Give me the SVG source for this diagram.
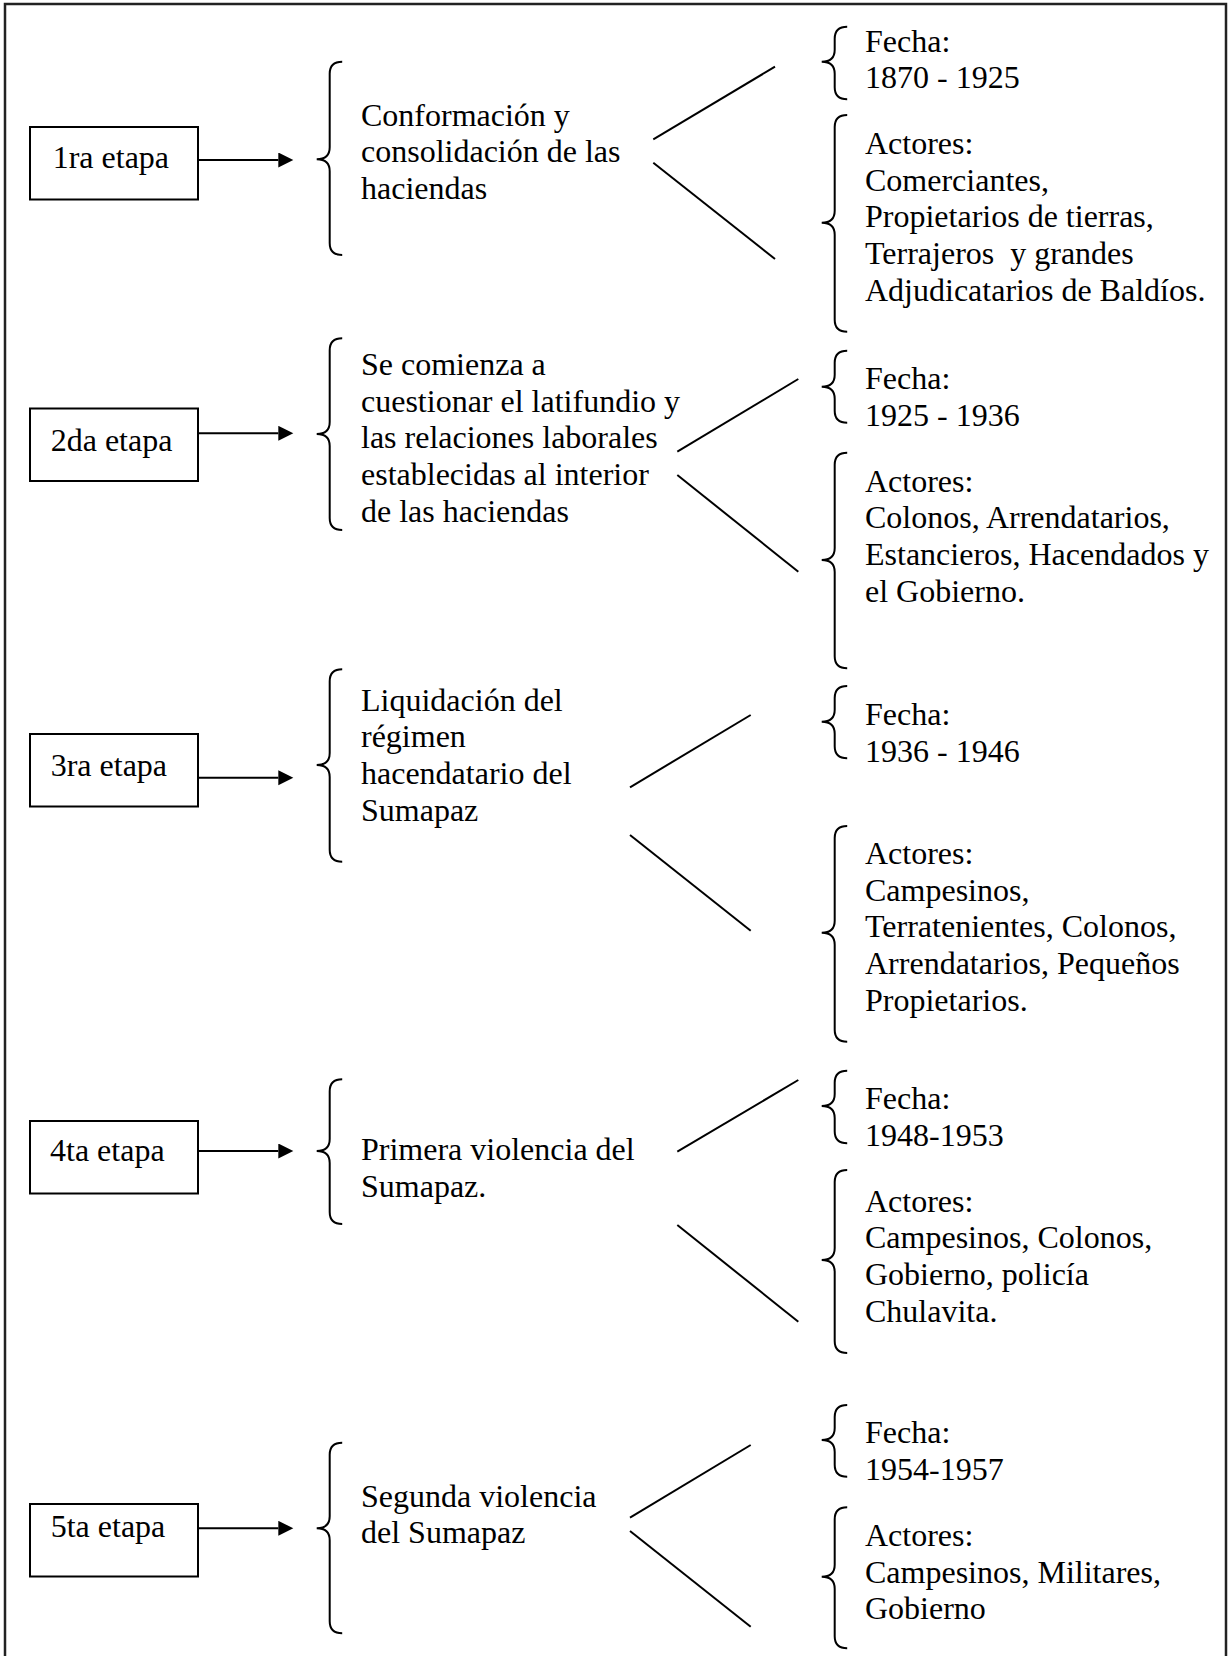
<svg xmlns="http://www.w3.org/2000/svg" width="1228" height="1656" viewBox="0 0 1228 1656">
<defs>
<style>
text{font-family:"Liberation Serif","Times New Roman",serif;font-size:32px;fill:#000;white-space:pre}
.box{fill:#fff;stroke:#000;stroke-width:2}
.arr{stroke:#000;stroke-width:2;fill:none}
.brace{fill:none;stroke:#000;stroke-width:2}
.diag{stroke:#000;stroke-width:2;fill:none}
.frame{stroke:#222;stroke-width:2.5;fill:none}
</style>
<marker id="ah" markerUnits="userSpaceOnUse" markerWidth="16" markerHeight="16" refX="0" refY="7.5" orient="auto">
<path d="M0,0 L15,7.5 L0,15 z" fill="#000"/>
</marker>
</defs>
<rect width="1228" height="1656" fill="#fff"/>
<path class="frame" d="M5,1656 L5,4 L1226,4 L1226,1656"/>

<g id="connectors">
<line class="arr" x1="198" y1="160" x2="278.3" y2="160" marker-end="url(#ah)"/>
<line class="arr" x1="198" y1="433.3" x2="278.3" y2="433.3" marker-end="url(#ah)"/>
<line class="arr" x1="198" y1="777.7" x2="278.3" y2="777.7" marker-end="url(#ah)"/>
<line class="arr" x1="198" y1="1151" x2="278.3" y2="1151" marker-end="url(#ah)"/>
<line class="arr" x1="198" y1="1528.3" x2="278.3" y2="1528.3" marker-end="url(#ah)"/>

<line class="diag" x1="653.3" y1="139.3" x2="775" y2="66.7"/>
<line class="diag" x1="653.3" y1="162.7" x2="775" y2="259"/>
<line class="diag" x1="677.3" y1="451.7" x2="798.3" y2="379"/>
<line class="diag" x1="677.3" y1="475" x2="798.3" y2="571.7"/>
<line class="diag" x1="630" y1="787.3" x2="750.7" y2="715"/>
<line class="diag" x1="630" y1="835" x2="750.7" y2="930.7"/>
<line class="diag" x1="677.3" y1="1151.7" x2="798.3" y2="1080"/>
<line class="diag" x1="677.3" y1="1225" x2="798.3" y2="1321.7"/>
<line class="diag" x1="630" y1="1517.7" x2="750.7" y2="1445"/>
<line class="diag" x1="630" y1="1531" x2="750.7" y2="1626.7"/>
</g>

<g id="etapa1">
<rect class="box" x="30" y="127" width="168" height="72.5"/>
<text x="52.7" y="168.3">1ra etapa</text>
</g>
<g id="tema1">
<path class="brace" d="M342.2,61.7 Q329.7,61.7 329.7,73.7 L329.7,147.3 Q329.7,159.3 316.7,159.3 Q329.7,159.3 329.7,171.3 L329.7,243 Q329.7,255 342.2,255"/>
<text x="361" y="125.7">Conformación y</text>
<text x="361" y="162.4">consolidación de las</text>
<text x="361" y="199.1">haciendas</text>
</g>
<g id="fecha1">
<path class="brace" d="M847.2,26.7 Q834.7,26.7 834.7,38.7 L834.7,49.7 Q834.7,61.7 821.7,61.7 Q834.7,61.7 834.7,73.7 L834.7,87.3 Q834.7,99.3 847.2,99.3"/>
<text x="865" y="51.7">Fecha:</text>
<text x="865" y="88.3">1870 - 1925</text>
</g>
<g id="actores1">
<path class="brace" d="M847.2,115 Q834.7,115 834.7,127 L834.7,210.7 Q834.7,222.7 821.7,222.7 Q834.7,222.7 834.7,234.7 L834.7,319.7 Q834.7,331.7 847.2,331.7"/>
<text x="865" y="154">Actores:</text>
<text x="865" y="190.7">Comerciantes,</text>
<text x="865" y="227.4">Propietarios de tierras,</text>
<text x="865" y="264.1">Terrajeros  y grandes</text>
<text x="865" y="300.8">Adjudicatarios de Baldíos.</text>
</g>

<g id="etapa2">
<rect class="box" x="30" y="408.5" width="168" height="72.5"/>
<text x="50.7" y="450.7">2da etapa</text>
</g>
<g id="tema2">
<path class="brace" d="M342.2,338.3 Q329.7,338.3 329.7,350.3 L329.7,422 Q329.7,434 316.7,434 Q329.7,434 329.7,446 L329.7,518 Q329.7,530 342.2,530"/>
<text x="361" y="375">Se comienza a</text>
<text x="361" y="411.7">cuestionar el latifundio y</text>
<text x="361" y="448.4">las relaciones laborales</text>
<text x="361" y="485.1">establecidas al interior</text>
<text x="361" y="521.8">de las haciendas</text>
</g>
<g id="fecha2">
<path class="brace" d="M847.2,350.7 Q834.7,350.7 834.7,362.7 L834.7,374.7 Q834.7,386.7 821.7,386.7 Q834.7,386.7 834.7,398.7 L834.7,410.7 Q834.7,422.7 847.2,422.7"/>
<text x="865" y="389.3">Fecha:</text>
<text x="865" y="426">1925 - 1936</text>
</g>
<g id="actores2">
<path class="brace" d="M847.2,452.7 Q834.7,452.7 834.7,464.7 L834.7,548 Q834.7,560 821.7,560 Q834.7,560 834.7,572 L834.7,656.3 Q834.7,668.3 847.2,668.3"/>
<text x="865" y="491.7">Actores:</text>
<text x="865" y="528.4">Colonos, Arrendatarios,</text>
<text x="865" y="565.1">Estancieros, Hacendados y</text>
<text x="865" y="601.8">el Gobierno.</text>
</g>

<g id="etapa3">
<rect class="box" x="30" y="734" width="168" height="72.5"/>
<text x="50.7" y="775.5">3ra etapa</text>
</g>
<g id="tema3">
<path class="brace" d="M342.2,669.3 Q329.7,669.3 329.7,681.3 L329.7,753 Q329.7,765 316.7,765 Q329.7,765 329.7,777 L329.7,849.7 Q329.7,861.7 342.2,861.7"/>
<text x="361" y="710.7">Liquidación del</text>
<text x="361" y="747.4">régimen</text>
<text x="361" y="784.1">hacendatario del</text>
<text x="361" y="820.8">Sumapaz</text>
</g>
<g id="fecha3">
<path class="brace" d="M847.2,686 Q834.7,686 834.7,698 L834.7,709.7 Q834.7,721.7 821.7,721.7 Q834.7,721.7 834.7,733.7 L834.7,746.3 Q834.7,758.3 847.2,758.3"/>
<text x="865" y="725">Fecha:</text>
<text x="865" y="761.7">1936 - 1946</text>
</g>
<g id="actores3">
<path class="brace" d="M847.2,826 Q834.7,826 834.7,838 L834.7,920.7 Q834.7,932.7 821.7,932.7 Q834.7,932.7 834.7,944.7 L834.7,1029.7 Q834.7,1041.7 847.2,1041.7"/>
<text x="865" y="864">Actores:</text>
<text x="865" y="900.7">Campesinos,</text>
<text x="865" y="937.4">Terratenientes, Colonos,</text>
<text x="865" y="974.1">Arrendatarios, Pequeños</text>
<text x="865" y="1010.8">Propietarios.</text>
</g>

<g id="etapa4">
<rect class="box" x="30" y="1121" width="168" height="72.5"/>
<text x="50" y="1160.7">4ta etapa</text>
</g>
<g id="tema4">
<path class="brace" d="M342.2,1079.3 Q329.7,1079.3 329.7,1091.3 L329.7,1139 Q329.7,1151 316.7,1151 Q329.7,1151 329.7,1163 L329.7,1212 Q329.7,1224 342.2,1224"/>
<text x="361" y="1160">Primera violencia del</text>
<text x="361" y="1196.7">Sumapaz.</text>
</g>
<g id="fecha4">
<path class="brace" d="M847.2,1070.7 Q834.7,1070.7 834.7,1082.7 L834.7,1094 Q834.7,1106 821.7,1106 Q834.7,1106 834.7,1118 L834.7,1131.3 Q834.7,1143.3 847.2,1143.3"/>
<text x="865" y="1109.3">Fecha:</text>
<text x="865" y="1146">1948-1953</text>
</g>
<g id="actores4">
<path class="brace" d="M847.2,1170 Q834.7,1170 834.7,1182 L834.7,1248 Q834.7,1260 821.7,1260 Q834.7,1260 834.7,1272 L834.7,1341 Q834.7,1353 847.2,1353"/>
<text x="865" y="1211.7">Actores:</text>
<text x="865" y="1248.4">Campesinos, Colonos,</text>
<text x="865" y="1285.1">Gobierno, policía</text>
<text x="865" y="1321.8">Chulavita.</text>
</g>

<g id="etapa5">
<rect class="box" x="30" y="1504" width="168" height="72.5"/>
<text x="50.7" y="1536.7">5ta etapa</text>
</g>
<g id="tema5">
<path class="brace" d="M342.2,1442.7 Q329.7,1442.7 329.7,1454.7 L329.7,1516.3 Q329.7,1528.3 316.7,1528.3 Q329.7,1528.3 329.7,1540.3 L329.7,1621.3 Q329.7,1633.3 342.2,1633.3"/>
<text x="361" y="1506.7">Segunda violencia</text>
<text x="361" y="1543.4">del Sumapaz</text>
</g>
<g id="fecha5">
<path class="brace" d="M847.2,1405 Q834.7,1405 834.7,1417 L834.7,1428 Q834.7,1440 821.7,1440 Q834.7,1440 834.7,1452 L834.7,1464.7 Q834.7,1476.7 847.2,1476.7"/>
<text x="865" y="1443.3">Fecha:</text>
<text x="865" y="1480">1954-1957</text>
</g>
<g id="actores5">
<path class="brace" d="M847.2,1507.3 Q834.7,1507.3 834.7,1519.3 L834.7,1564.7 Q834.7,1576.7 821.7,1576.7 Q834.7,1576.7 834.7,1588.7 L834.7,1636.3 Q834.7,1648.3 847.2,1648.3"/>
<text x="865" y="1546">Actores:</text>
<text x="865" y="1582.7">Campesinos, Militares,</text>
<text x="865" y="1619.4">Gobierno</text>
</g>
</svg>
